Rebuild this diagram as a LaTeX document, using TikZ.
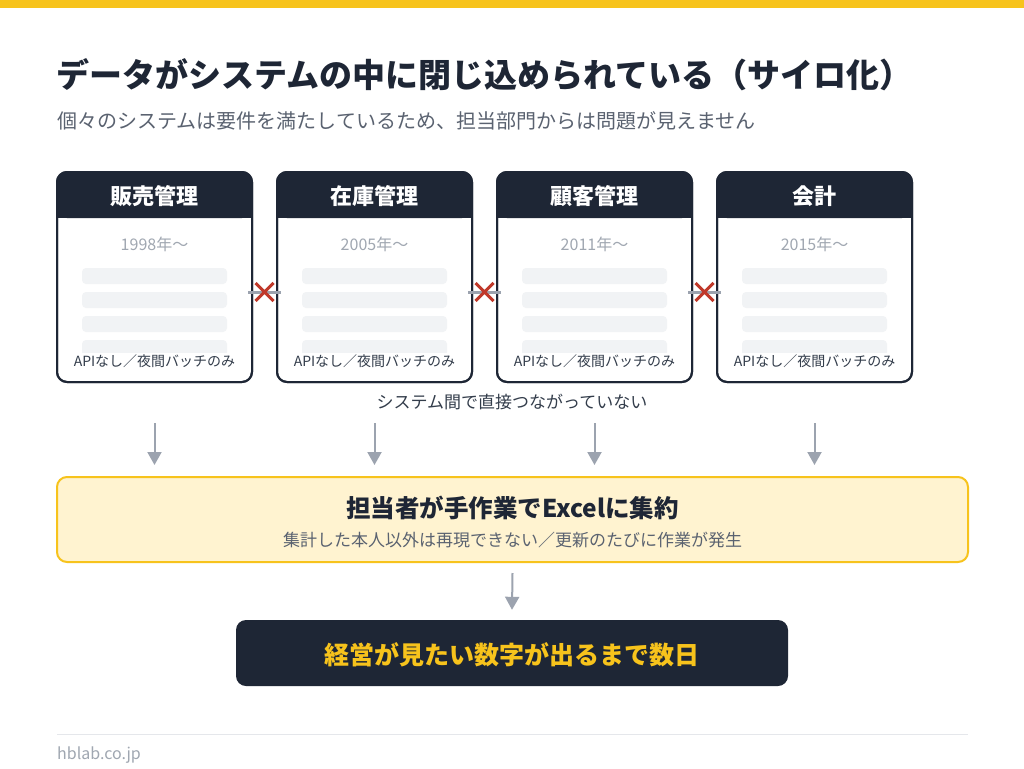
\documentclass[tikz,border=0pt]{standalone}
\usepackage{fontspec}
\setmainfont{Noto Sans CJK JP}
\usetikzlibrary{arrows.meta,calc,shapes.misc}
\definecolor{navy}{HTML}{1E2635}
\definecolor{topbarc}{HTML}{F7C31C}
\definecolor{yfill}{HTML}{FFF3D0}
\definecolor{ytext}{HTML}{F7C31C}
\definecolor{barc}{HTML}{F1F3F5}
\definecolor{arrowc}{HTML}{9CA3AF}
\definecolor{xred}{HTML}{C0392B}
\definecolor{subgray}{HTML}{5A6270}
\definecolor{yeargray}{HTML}{A0A7B1}
\definecolor{bodytext}{HTML}{333D4B}
\definecolor{lightline}{HTML}{E5E7EB}
\newcommand\fsz[1]{\fontsize{#1pt}{#1pt}\selectfont}
\begin{document}
\begin{tikzpicture}[x=1pt,y=-1pt,
  sysbox/.style={draw=navy, line width=2pt, fill=white, rounded corners=10pt, minimum width=195pt, minimum height=210pt, inner sep=0pt},
  headtext/.style={text=white, font=\fsz{22}\bfseries, inner sep=0pt},
  yeartext/.style={text=yeargray, font=\fsz{16}, inner sep=0pt},
  apitext/.style={text=bodytext, font=\fsz{14}, fill=white, inner sep=1pt},
  conn/.style={draw=arrowc, line width=3pt},
  xmark/.style={cross out, draw=xred, line width=3pt, minimum size=15pt, inner sep=0pt},
  downarrow/.style={draw=arrowc, line width=2pt, -{Triangle[width=14pt,length=13pt]}},
]
\useasboundingbox (0,0) rectangle (1024,768);
\fill[fill=white] (0,0) rectangle (1024,768);
\fill[fill=topbarc] (0,0) rectangle (1024,8);

\node[anchor=west, inner sep=0pt, text=navy, font=\fsz{33}\bfseries] (title) at (56,75) {データがシステムの中に閉じ込められている（サイロ化）};
\node[anchor=west, inner sep=0pt, text=subgray, font=\fsz{20}] (subtitle) at (57,121) {個々のシステムは要件を満たしているため、担当部門からは問題が見えません};

\foreach \i/\cx/\nm/\yr in {1/154.5/販売管理/1998, 2/374.5/在庫管理/2005, 3/594.5/顧客管理/2011, 4/814.5/会計/2015} {
  \node[sysbox] (b\i) at (\cx,277) {};
  \fill[fill=navy, rounded corners=10pt] (\cx-97.5,172) rectangle (\cx+97.5,218);
  \fill[fill=navy] (\cx-97.5,200) rectangle (\cx+97.5,218);
  \draw[draw=navy, line width=2pt, rounded corners=10pt] (\cx-97.5,172) rectangle (\cx+97.5,382);
  \node[headtext] (h\i) at (\cx,196) {\nm};
  \node[yeartext] (y\i) at (\cx,244) {\yr 年〜};
  \foreach \yy in {268,292,316,340} {
    \fill[fill=barc, rounded corners=4pt] (\cx-72.5,\yy) rectangle (\cx+72.5,\yy+16);
  }
  \node[apitext] (a\i) at (\cx,361) {APIなし／夜間バッチのみ};
}

\foreach \i/\j in {1/2,2/3,3/4} {
  \draw[conn] ($(b\i.east)+(-5,15)$) -- ($(b\j.west)+(5,15)$);
  \node[xmark] (x\i) at ($(b\i.east)!0.5!(b\j.west)+(0,15)$) {};
}

\node[inner sep=0pt, text=bodytext, font=\fsz{17}] (nolink) at (512,402) {システム間で直接つながっていない};

\node[draw=topbarc, fill=yfill, line width=2pt, rounded corners=10pt, minimum width=911pt, minimum height=85pt, inner sep=0pt] (yb) at (512.5,519.5) {};
\node[inner sep=0pt, text=navy, font=\fsz{24.5}\bfseries] (ybt) at (512.5,508) {担当者が手作業でExcelに集約};
\node[inner sep=0pt, text=subgray, font=\fsz{17}] (ybs) at (512.5,540) {集計した本人以外は再現できない／更新のたびに作業が発生};

\foreach \i in {1,2,3,4} {
  \draw[downarrow] ([yshift=-40pt]b\i.south) -- ($(b\i.south |- yb.north)+(0,-11)$);
}

\node[fill=navy, rounded corners=10pt, minimum width=552pt, minimum height=66pt, inner sep=0pt] (db) at (512,653) {};
\node[inner sep=0pt, text=ytext, font=\fsz{25}\bfseries] (dbt) at (512,655) {経営が見たい数字が出るまで数日};

\draw[downarrow] ([yshift=-10pt]yb.south) -- ([yshift=10pt]db.north);

\draw[draw=lightline, line width=1pt] (57,734) -- (968,734);
\node[anchor=west, inner sep=0pt, text=yeargray, font=\fsz{16}] (footer) at (57,755) {hblab.co.jp};
\end{tikzpicture}
\end{document}
